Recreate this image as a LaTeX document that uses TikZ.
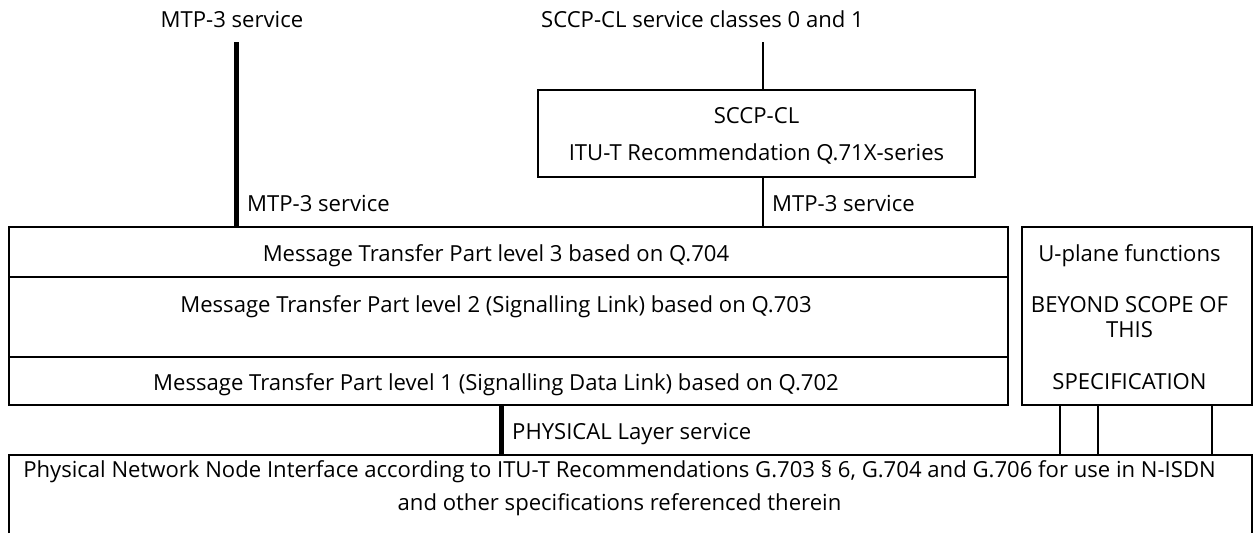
\documentclass[tikz,border=0pt]{standalone}
\usepackage{fontspec}
\setmainfont{Open Sans}
\begin{document}
\begin{tikzpicture}[x=1pt,y=-1pt,
  every node/.style={font=\fontsize{22.1}{26}\selectfont, inner sep=0pt},
  box/.style={draw, line width=2pt, rectangle},
  txt/.style={anchor=base},
  thin/.style={line width=2pt},
  thickline/.style={line width=5pt}]
\useasboundingbox (0,0) rectangle (1256,533);
% boxes
\node[box, minimum width=437pt, minimum height=87pt] (sccp) at (756.5,133.5) {};
\node[box, minimum width=999pt, minimum height=50pt] (mtp3) at (508.5,252) {};
\node[box, minimum width=999pt, minimum height=80pt] (mtp2) at (508.5,317) {};
\node[box, minimum width=999pt, minimum height=48pt] (mtp1) at (508.5,381) {};
\node[box, minimum width=230pt, minimum height=178pt] (uplane) at (1137,316) {};
\node[minimum width=1243pt, minimum height=80pt] (phys) at (630.5,495) {};
\draw[thin] (phys.west |- 533,533) -- (phys.north west) -- (phys.north east) -- (phys.east |- 533,533);
% texts
\node[txt] (tl) at (232,27.5) {MTP-3 service};
\node[txt] (tr) at (702.5,27.5) {SCCP-CL service classes 0 and 1};
\node[txt] (sccpa) at (756.5,123) {SCCP-CL};
\node[txt] (sccpb) at (756.5,160) {ITU-T Recommendation Q.71X-series};
\node[txt,anchor=base west] (ml) at (247,211) {MTP-3 service};
\node[txt,anchor=base west] (mr) at (772,211) {MTP-3 service};
\node[txt] (t3) at (496,261) {Message Transfer Part level 3 based on Q.704};
\node[txt] (t2) at (496,312) {Message Transfer Part level 2 (Signalling Link) based on Q.703};
\node[txt] (t1) at (496,390) {Message Transfer Part level 1 (Signalling Data Link) based on Q.702};
\node[txt] (ua) at (1129.5,261) {U-plane functions};
\node[txt] (ub) at (1129.5,312) {BEYOND SCOPE OF};
\node[txt] (uc) at (1129.5,337) {THIS};
\node[txt] (ud) at (1129.5,389) {SPECIFICATION};
\node[txt,anchor=base west] (pl) at (512,439) {PHYSICAL Layer service};
\node[txt] (pa) at (619.5,477) {Physical Network Node Interface according to ITU-T Recommendations G.703 § 6, G.704 and G.706 for use in N-ISDN};
\node[txt] (pb) at (619.5,510) {and other specifications referenced therein};
% connectors
\coordinate (mtpin) at (236,42);
\coordinate (sccpin) at (763,42);
\coordinate (physx) at (501,0);
\draw[thickline] (mtpin) -- (mtpin |- mtp3.north);
\draw[thin] (sccpin) -- (sccpin |- sccp.north);
\draw[thin] (sccpin |- sccp.south) -- (sccpin |- mtp3.north);
\draw[thickline] (physx |- mtp1.south) -- (physx |- phys.north);
\foreach \x/\n in {1060/a,1098/b,1212/c} {
  \coordinate (u\n) at (\x,0);
  \draw[thin] (u\n |- uplane.south) -- (u\n |- phys.north);
}
\end{tikzpicture}
\end{document}
